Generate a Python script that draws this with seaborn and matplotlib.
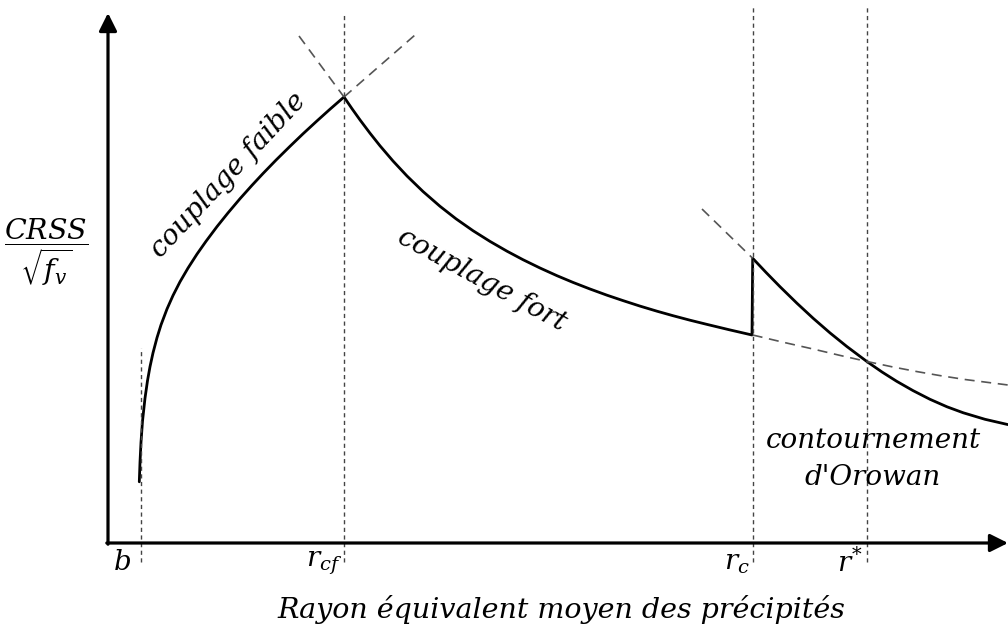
import numpy as np
import pandas as pd
import matplotlib
matplotlib.use("Agg")
import matplotlib.pyplot as plt
import seaborn as sns

# Schematic CRSS / sqrt(f_v) vs mean precipitate radius (arbitrary units,
# origin at the corner of the axes)

# weak coupling branch (shearing, weakly coupled dislocation pairs)
weak_r = [31.3, 32, 33, 34.5, 37, 39.5, 42, 45, 49, 53, 59, 65, 72, 80, 89,
          98, 109, 120, 132, 144, 155, 168, 182, 195, 209, 222, 236]
weak_s = [61.2, 80.8, 100.8, 121.8, 144.8, 162.3, 176.3, 190.1, 205.3,
          218.1, 234, 247.5, 261.2, 274.9, 288.9, 301.7, 316.4, 330.1,
          344.3, 357.7, 369.5, 382.9, 396.7, 409.2, 422.1, 433.8, 446]

# strong coupling branch
strong_r = [236, 244, 252, 262, 272, 285, 299, 315, 332, 348, 365, 382, 399,
            415, 432, 449, 465, 482, 499, 515, 532, 549, 565, 582, 599, 621,
            644]
strong_s = [446, 434.3, 423.1, 409.8, 397.2, 382, 367, 351.5, 336.7, 324.2,
            312.3, 301.6, 291.8, 283.3, 275, 267.3, 260.6, 254, 247.8, 242.4,
            236.9, 231.8, 227.3, 222.8, 218.6, 213.3, 208]

# Orowan bypassing branch
orowan_r = [644.7, 658, 672, 689, 705.3, 722, 738.7, 759, 774, 788.7, 805,
            822, 839, 855.3, 877, 900]
orowan_s = [284.7, 270.6, 256.3, 239.7, 224.6, 210.1, 196.6, 181.4, 171,
            161.7, 152.4, 143.7, 136.2, 130.2, 123.7, 118.4]

# continuation of the strong coupling law past r_c
strong_ext_r = [644.7, 675, 705, 732, 759, 784, 809, 832, 857, 900]
strong_ext_s = [208, 200.8, 194, 187.6, 181.5, 176.2, 171.4, 167.4, 163.5,
                158]

# continuation of the Orowan law below r_c
orowan_ext_r = [594, 644.7]
orowan_ext_s = [334, 284.7]

# tangents crossing at the weak/strong transition
weak_ext_r = [236, 307]
weak_ext_s = [446, 508]
strong_up_r = [191, 236]
strong_up_s = [507, 446]

# characteristic radii
radius_pos = [32.7, 235.5, 644.5, 759]
radius_top = [195, 528, 536, 536]
radius_labels = [r"$b$", r"$r_{cf}$", r"$r_c$", r"$r^{*}$"]
radius_label_dx = [-19, -19, -16, -17]

regime_labels = ["couplage faible", "couplage fort", "contournement\nd'Orowan"]
x_title = "Rayon équivalent moyen des précipités"
y_title = r"$\dfrac{CRSS}{\sqrt{f_v}}$"

sns.set_theme(style="white")
plt.rcParams["font.family"] = ["DejaVu Serif", "DejaVu Sans"]
plt.rcParams["mathtext.fontset"] = "dejavuserif"
plt.rcParams["text.color"] = "black"

fig = plt.figure(figsize=(10.08, 6.26), dpi=100)
ax = fig.add_axes([0, 0, 1, 1])

solid = pd.DataFrame({
    "r": weak_r + strong_r[1:] + orowan_r,
    "s": weak_s + strong_s[1:] + orowan_s,
})
sns.lineplot(data=solid, x="r", y="s", sort=False, estimator=None,
             color="black", lw=2.0, ax=ax)

dash_kw = dict(sort=False, estimator=None, color="#555555", lw=1.2, ax=ax)
for xs, ys in [(strong_ext_r, strong_ext_s), (orowan_ext_r, orowan_ext_s),
               (weak_ext_r, weak_ext_s), (strong_up_r, strong_up_s)]:
    line = sns.lineplot(x=xs, y=ys, **dash_kw).lines[-1]
    line.set_dashes([6, 4])

for pos, top in zip(radius_pos, radius_top):
    line = sns.lineplot(x=[pos, pos], y=[-19, top], sort=False,
                        estimator=None, color="#444444", lw=1.0, ax=ax).lines[-1]
    line.set_dashes([3, 2.5])

ax.set_xlim(-108, 900)
ax.set_ylim(-83, 543)
ax.axis("off")

# axes with arrowheads
arrow = dict(arrowstyle="-|>,head_length=0.9,head_width=0.45", lw=2.3,
             color="black", shrinkA=0, shrinkB=0)
ax.annotate("", xy=(0, 530), xytext=(0, -1.2), arrowprops=arrow)
ax.annotate("", xy=(900, 0), xytext=(-1.2, 0), arrowprops=arrow)

for pos, lab, dx in zip(radius_pos, radius_labels, radius_label_dx):
    ax.text(pos + dx, -20, lab, ha="center", va="center", fontsize=20)

ax.text(453, -67, x_title, ha="center", va="center", fontsize=20.5,
        style="italic")
ax.text(-62, 291, y_title, ha="center", va="center", fontsize=20.5)

ax.text(120, 368, regime_labels[0], ha="center", va="center", fontsize=20,
        style="italic", rotation=47, rotation_mode="anchor")
ax.text(374, 263, regime_labels[1], ha="center", va="center", fontsize=20,
        style="italic", rotation=-28.5, rotation_mode="anchor")
ax.text(765, 84, regime_labels[2], ha="center", va="center", fontsize=20,
        style="italic", linespacing=1.45)

fig.savefig("out.png", dpi=100)
